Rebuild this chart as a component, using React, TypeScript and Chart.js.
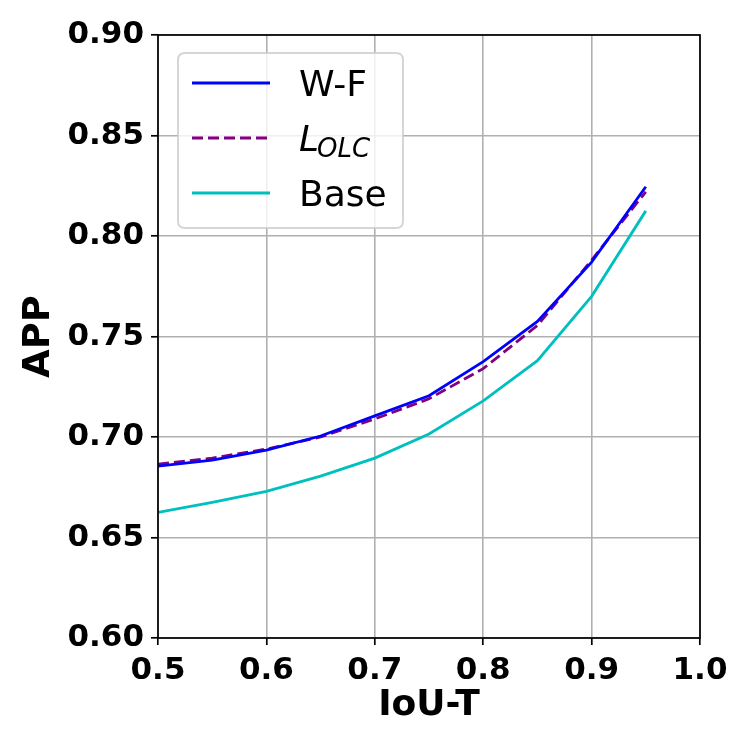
import React, { useEffect, useRef } from "react";
import { Chart, registerables } from "chart.js";

Chart.register(...registerables);

const iouThresholds = [0.5, 0.55, 0.6, 0.65, 0.7, 0.75, 0.8, 0.85, 0.9, 0.95];
const wfValues = [0.6855, 0.6885, 0.6935, 0.7005, 0.7105, 0.7205, 0.7375, 0.7575, 0.787, 0.8245];
const lolcValues = [0.6865, 0.6895, 0.694, 0.7, 0.709, 0.719, 0.734, 0.7555, 0.788, 0.822];
const baseValues = [0.6625, 0.6675, 0.673, 0.6805, 0.6895, 0.7015, 0.718, 0.738, 0.77, 0.8125];

const xLabel = "IoU-T";
const yLabel = "APP";
const legendItems = [
  { main: "W-F", sub: "", color: "#0000ff", dash: [] as number[] },
  { main: "L", sub: "OLC", color: "#800080", dash: [11, 5] },
  { main: "Base", sub: "", color: "#00bfbf", dash: [] as number[] },
];

const FONT = "'DejaVu Sans', sans-serif";

const toPoints = (ys: number[]) => iouThresholds.map((x, i) => ({ x, y: ys[i] }));

const framePlugin = {
  id: "frame",
  afterDatasetsDraw(chart: any) {
    const { ctx, chartArea } = chart;
    ctx.save();
    ctx.strokeStyle = "#000";
    ctx.lineWidth = 1.7;
    ctx.strokeRect(chartArea.left, chartArea.top, chartArea.right - chartArea.left, chartArea.bottom - chartArea.top);
    ctx.restore();
  },
};

const legendPlugin = {
  id: "customLegend",
  afterDraw(chart: any) {
    const { ctx, chartArea } = chart;
    const left = chartArea.left + 20;
    const top = chartArea.top + 18;
    const w = 225;
    const h = 175;
    const r = 7;
    ctx.save();
    ctx.beginPath();
    ctx.moveTo(left + r, top);
    ctx.lineTo(left + w - r, top);
    ctx.quadraticCurveTo(left + w, top, left + w, top + r);
    ctx.lineTo(left + w, top + h - r);
    ctx.quadraticCurveTo(left + w, top + h, left + w - r, top + h);
    ctx.lineTo(left + r, top + h);
    ctx.quadraticCurveTo(left, top + h, left, top + h - r);
    ctx.lineTo(left, top + r);
    ctx.quadraticCurveTo(left, top, left + r, top);
    ctx.closePath();
    ctx.fillStyle = "rgba(255,255,255,0.8)";
    ctx.fill();
    ctx.strokeStyle = "rgba(204,204,204,0.8)";
    ctx.lineWidth = 2;
    ctx.stroke();

    const rowYs = [top + 30, top + 85, top + 140];
    legendItems.forEach((item, i) => {
      const y = rowYs[i];
      ctx.beginPath();
      ctx.setLineDash(item.dash);
      ctx.strokeStyle = item.color;
      ctx.lineWidth = 2.8;
      ctx.moveTo(left + 14, y);
      ctx.lineTo(left + 92, y);
      ctx.stroke();
      ctx.setLineDash([]);
      ctx.fillStyle = "#000";
      ctx.textBaseline = "alphabetic";
      ctx.textAlign = "left";
      const tx = left + 121;
      const base = y + 13;
      if (item.sub) {
        ctx.font = `italic 36px ${FONT}`;
        ctx.fillText(item.main, tx, base);
        const mw = ctx.measureText(item.main).width;
        ctx.font = `italic 26px ${FONT}`;
        ctx.fillText(item.sub, tx + mw - 2, base + 6);
      } else {
        ctx.font = `36px ${FONT}`;
        ctx.fillText(item.main, tx, base);
      }
    });
    ctx.restore();
  },
};

export default function App() {
  const canvasRef = useRef<HTMLCanvasElement | null>(null);

  useEffect(() => {
    if (!canvasRef.current) return;
    const chart = new Chart(canvasRef.current, {
      type: "line",
      data: {
        datasets: [
          {
            label: "W-F",
            data: toPoints(wfValues),
            borderColor: legendItems[0].color,
            borderWidth: 2.8,
            pointRadius: 0,
            tension: 0,
            fill: false,
          },
          {
            label: "L_OLC",
            data: toPoints(lolcValues),
            borderColor: legendItems[1].color,
            borderWidth: 2.8,
            borderDash: legendItems[1].dash,
            pointRadius: 0,
            tension: 0,
            fill: false,
          },
          {
            label: "Base",
            data: toPoints(baseValues),
            borderColor: legendItems[2].color,
            borderWidth: 2.8,
            pointRadius: 0,
            tension: 0,
            fill: false,
          },
        ],
      },
      options: {
        responsive: false,
        animation: false,
        layout: { padding: { top: 35, right: 50, left: 0, bottom: 0 } },
        plugins: { legend: { display: false }, tooltip: { enabled: false } },
        scales: {
          x: {
            type: "linear",
            min: 0.5,
            max: 1.0,
            afterFit: (scale: any) => {
              scale.height = 112;
            },
            ticks: {
              stepSize: 0.1,
              padding: 7,
              color: "#000",
              font: { family: FONT, size: 31, weight: "bold" },
              callback: (v: any) => Number(v).toFixed(1),
            },
            grid: {
              color: "#b0b0b0",
              lineWidth: 1.6,
              tickColor: "#000",
              tickLength: 7,
              tickWidth: 1.7,
            },
            border: { display: false },
            title: {
              display: true,
              text: xLabel,
              color: "#000",
              font: { family: FONT, size: 36, weight: "bold" },
              padding: { top: 0, bottom: 23 },
            },
          },
          y: {
            type: "linear",
            min: 0.6,
            max: 0.9,
            afterFit: (scale: any) => {
              scale.width = 158;
            },
            ticks: {
              stepSize: 0.05,
              padding: 7,
              color: "#000",
              font: { family: FONT, size: 31, weight: "bold" },
              callback: (v: any) => Number(v).toFixed(2),
            },
            grid: {
              color: "#b0b0b0",
              lineWidth: 1.6,
              tickColor: "#000",
              tickLength: 7,
              tickWidth: 1.7,
            },
            border: { display: false },
            title: {
              display: true,
              text: yLabel,
              color: "#000",
              font: { family: FONT, size: 37, weight: "bold" },
              padding: { top: 17, bottom: 0 },
            },
          },
        },
      },
      plugins: [framePlugin, legendPlugin],
    });
    return () => chart.destroy();
  }, []);

  return (
    <div style={{ position: "absolute", left: 0, top: 0, width: 750, height: 750, background: "#fff" }}>
      <canvas ref={canvasRef} width={750} height={750} style={{ width: 750, height: 750 }} />
    </div>
  );
}
